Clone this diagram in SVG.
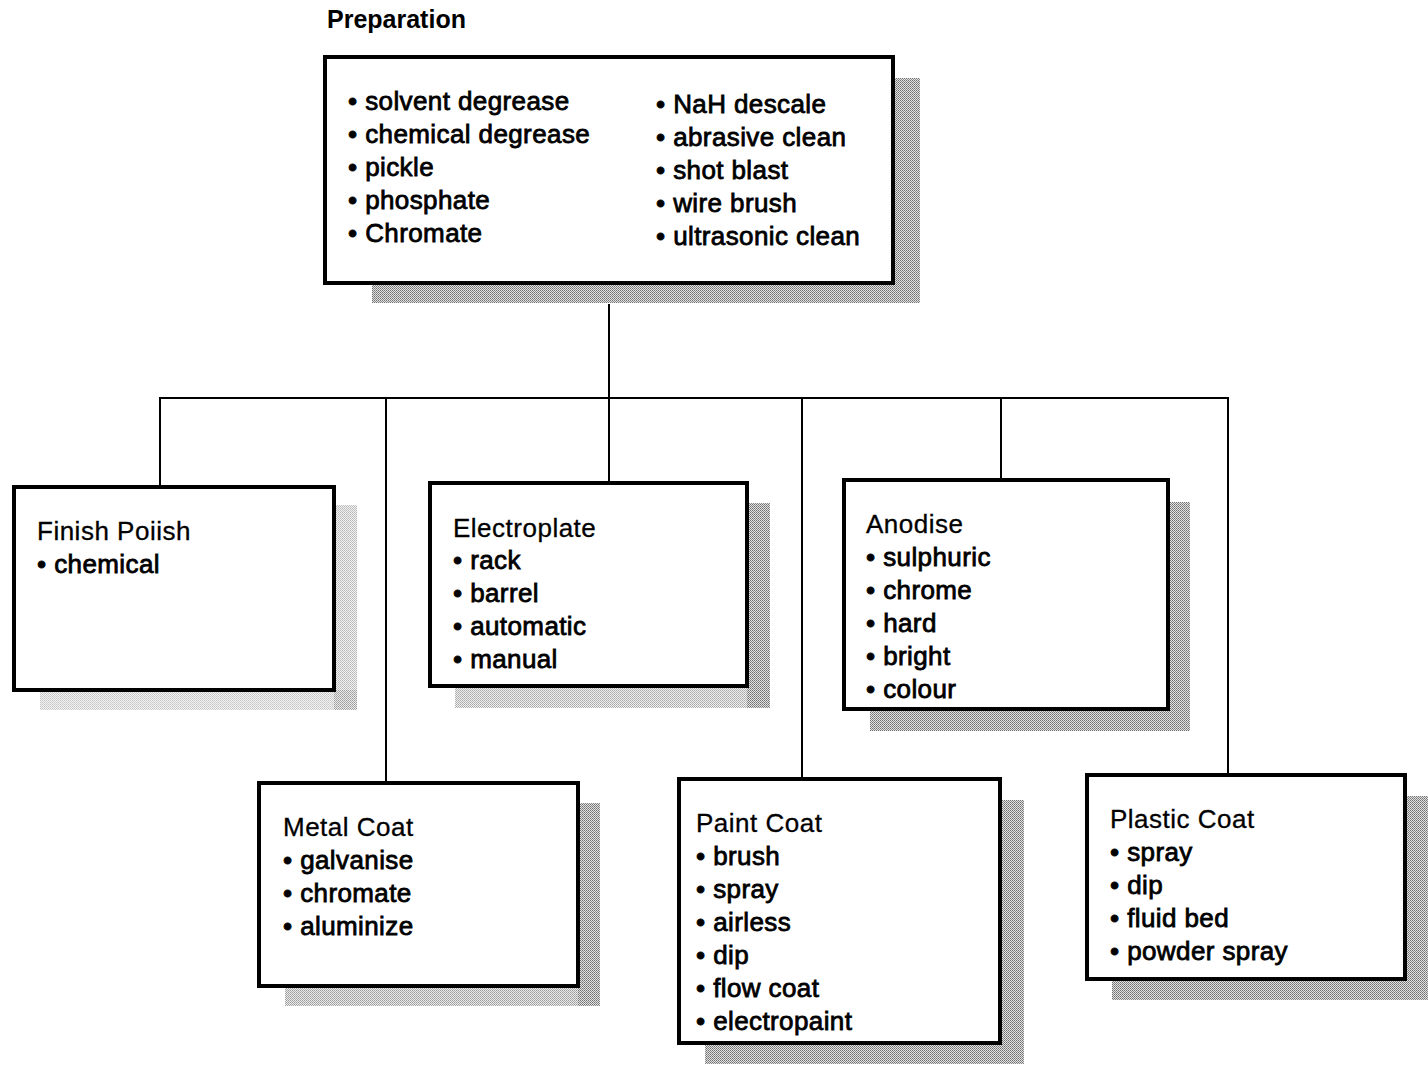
<svg xmlns="http://www.w3.org/2000/svg" width="1428" height="1066" viewBox="0 0 1428 1066">
<defs>
<pattern id="dither" width="2" height="2" patternUnits="userSpaceOnUse">
<rect width="2" height="2" fill="#e2e2e2"/>
<rect width="1" height="1" fill="#707070"/>
<rect x="1" y="1" width="1" height="1" fill="#8a8a8a"/>
</pattern>
</defs>
<style>
.box{fill:#fff;stroke:#000;stroke-width:4}
.sh{fill:url(#dither)}
.title{font-family:"Liberation Sans",Arial,sans-serif;font-size:26px;fill:#000;stroke:#000;stroke-width:0.3;letter-spacing:0.5px}
.item{font-family:"Liberation Sans",Arial,sans-serif;font-size:26px;fill:#000;stroke:#000;stroke-width:0.8;letter-spacing:0.4px}
.head{font-family:"Liberation Sans",Arial,sans-serif;font-size:25px;font-weight:bold;fill:#000}
.conn{stroke:#000;stroke-width:2;fill:none}
</style>
<rect width="1428" height="1066" fill="#fff"/>
<g id="connectors">
<line class="conn" x1="609" y1="304" x2="609" y2="398"/>
<line class="conn" x1="159" y1="398" x2="1229" y2="398"/>
<line class="conn" x1="160" y1="398" x2="160" y2="487"/>
<line class="conn" x1="386" y1="398" x2="386" y2="783"/>
<line class="conn" x1="609" y1="398" x2="609" y2="483"/>
<line class="conn" x1="802" y1="398" x2="802" y2="779"/>
<line class="conn" x1="1001" y1="398" x2="1001" y2="480"/>
<line class="conn" x1="1228" y1="398" x2="1228" y2="775"/>
</g>
<text class="head" x="327" y="28">Preparation</text>
<g id="preparation">
<rect class="sh" x="893" y="78" width="27" height="225"/>
<rect class="sh" x="372" y="283" width="548" height="20"/>
<rect class="box" x="325" y="57" width="568" height="226"/>
<text class="item" x="348" y="110">• solvent degrease</text>
<text class="item" x="348" y="143">• chemical degrease</text>
<text class="item" x="348" y="176">• pickle</text>
<text class="item" x="348" y="209">• phosphate</text>
<text class="item" x="348" y="242">• Chromate</text>
<text class="item" x="656" y="113">• NaH descale</text>
<text class="item" x="656" y="146">• abrasive clean</text>
<text class="item" x="656" y="179">• shot blast</text>
<text class="item" x="656" y="212">• wire brush</text>
<text class="item" x="656" y="245">• ultrasonic clean</text>
</g>
<g id="finish-polish">
<rect class="sh" x="334" y="505" width="23" height="205" opacity="0.5"/>
<rect class="sh" x="40" y="690" width="317" height="20" opacity="0.4"/>
<rect class="box" x="14" y="487" width="320" height="203"/>
<text class="title" x="37" y="540">Finish Poiish</text>
<text class="item" x="37" y="573">• chemical</text>
</g>
<g id="electroplate">
<rect class="sh" x="747" y="503" width="23" height="205"/>
<rect class="sh" x="455" y="686" width="315" height="22" opacity="0.6"/>
<rect class="box" x="430" y="483" width="317" height="203"/>
<text class="title" x="453" y="537">Electroplate</text>
<text class="item" x="453" y="569">• rack</text>
<text class="item" x="453" y="602">• barrel</text>
<text class="item" x="453" y="635">• automatic</text>
<text class="item" x="453" y="668">• manual</text>
</g>
<g id="anodise">
<rect class="sh" x="1168" y="502" width="22" height="229"/>
<rect class="sh" x="870" y="709" width="320" height="22"/>
<rect class="box" x="844" y="480" width="324" height="229"/>
<text class="title" x="866" y="533">Anodise</text>
<text class="item" x="866" y="566">• sulphuric</text>
<text class="item" x="866" y="599">• chrome</text>
<text class="item" x="866" y="632">• hard</text>
<text class="item" x="866" y="665">• bright</text>
<text class="item" x="866" y="698">• colour</text>
</g>
<g id="metal-coat">
<rect class="sh" x="578" y="803" width="22" height="203"/>
<rect class="sh" x="285" y="986" width="315" height="20" opacity="0.7"/>
<rect class="box" x="259" y="783" width="319" height="203"/>
<text class="title" x="283" y="836">Metal Coat</text>
<text class="item" x="283" y="869">• galvanise</text>
<text class="item" x="283" y="902">• chromate</text>
<text class="item" x="283" y="935">• aluminize</text>
</g>
<g id="paint-coat">
<rect class="sh" x="1000" y="800" width="24" height="264"/>
<rect class="sh" x="705" y="1043" width="319" height="21"/>
<rect class="box" x="679" y="779" width="321" height="264"/>
<text class="title" x="696" y="832">Paint Coat</text>
<text class="item" x="696" y="865">• brush</text>
<text class="item" x="696" y="898">• spray</text>
<text class="item" x="696" y="931">• airless</text>
<text class="item" x="696" y="964">• dip</text>
<text class="item" x="696" y="997">• flow coat</text>
<text class="item" x="696" y="1030">• electropaint</text>
</g>
<g id="plastic-coat">
<rect class="sh" x="1405" y="796" width="23" height="204"/>
<rect class="sh" x="1112" y="979" width="316" height="21"/>
<rect class="box" x="1087" y="775" width="318" height="204"/>
<text class="title" x="1110" y="828">Plastic Coat</text>
<text class="item" x="1110" y="861">• spray</text>
<text class="item" x="1110" y="894">• dip</text>
<text class="item" x="1110" y="927">• fluid bed</text>
<text class="item" x="1110" y="960">• powder spray</text>
</g>
</svg>
